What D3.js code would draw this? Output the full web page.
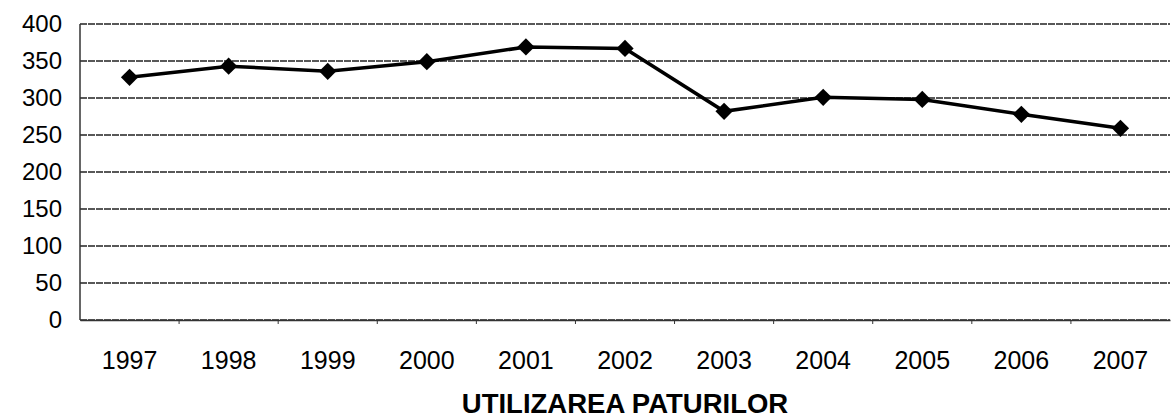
<!DOCTYPE html>
<html>
<head>
<meta charset="utf-8">
<script src="https://cdn.jsdelivr.net/npm/d3@7"></script>
<style>
  html, body { margin: 0; padding: 0; background: #fff; }
  svg { display: block; }
  text { font-family: "Liberation Sans", Arial, sans-serif; fill: #000; }
</style>
</head>
<body>
<script>
//Chart values.
const years = ["1997", "1998", "1999", "2000", "2001", "2002", "2003", "2004", "2005", "2006", "2007"];
const beds = [328, 343, 336, 349, 369, 367, 282, 301, 298, 278, 259];
const yTicks = [0, 50, 100, 150, 200, 250, 300, 350, 400];
const title = "UTILIZAREA PATURILOR";

const width = 1172;
const height = 420;
const plot = {left: 80, right: 1170, top: 24, bottom: 320};

const svg = d3.select("body").append("svg").attr("width", width).attr("height", height);

const xScale = d3.scaleBand().domain(years).range([plot.left, plot.right]);
const yScale = d3.scaleLinear().domain([0, 400]).range([plot.bottom, plot.top]);

//Gridlines.
svg.append("g")
  .selectAll("line")
  .data(yTicks)
  .enter()
  .append("line")
  .attr("x1", plot.left)
  .attr("x2", plot.right)
  .attr("y1", (d) => yScale(d))
  .attr("y2", (d) => yScale(d))
  .attr("stroke", "#222")
  .attr("stroke-width", 1.3)
  .attr("stroke-dasharray", "7,1");

//Left border of the plot.
svg.append("line")
  .attr("x1", plot.left).attr("x2", plot.left)
  .attr("y1", plot.top).attr("y2", plot.bottom)
  .attr("stroke", "#333").attr("stroke-width", 1.5);

//Y-Axis labels.
const yAxis = d3.axisLeft(yScale).tickValues(yTicks).tickSize(0).tickPadding(18);
const gy = svg.append("g").attr("transform", "translate(" + plot.left + ",0)").call(yAxis);
gy.select(".domain").remove();
gy.selectAll("text").style("font-size", "24px").attr("fill", "#000");

//X-Axis with category separators.
const xAxis = d3.axisBottom(xScale).tickSize(0).tickPadding(31);
const gx = svg.append("g").attr("transform", "translate(0," + plot.bottom + ")").call(xAxis);
gx.select(".domain").attr("stroke", "#333").attr("stroke-width", 1.5);
gx.selectAll("text").style("font-size", "25px").attr("fill", "#000");

gx.selectAll(".sep")
  .data(years.slice(1))
  .enter()
  .append("line")
  .attr("class", "sep")
  .attr("x1", (d) => xScale(d))
  .attr("x2", (d) => xScale(d))
  .attr("y1", 0)
  .attr("y2", 4)
  .attr("stroke", "#333");

//The line and its diamond markers.
const cx = (d, i) => xScale(years[i]) + xScale.bandwidth() / 2;
const line = d3.line().x(cx).y((d) => yScale(d));

svg.append("path")
  .datum(beds)
  .attr("d", line)
  .attr("fill", "none")
  .attr("stroke", "#000")
  .attr("stroke-width", 3.5);

svg.selectAll(".marker")
  .data(beds)
  .enter()
  .append("path")
  .attr("class", "marker")
  .attr("d", d3.symbol().type(d3.symbolDiamond2).size(190))
  .attr("transform", (d, i) => "translate(" + cx(d, i) + "," + yScale(d) + ")")
  .attr("fill", "#000");

//Title.
svg.append("text")
  .attr("x", (plot.left + plot.right) / 2)
  .attr("y", 413)
  .attr("text-anchor", "middle")
  .style("font-size", "27.5px")
  .style("font-weight", "bold")
  .text(title);
</script>
</body>
</html>
